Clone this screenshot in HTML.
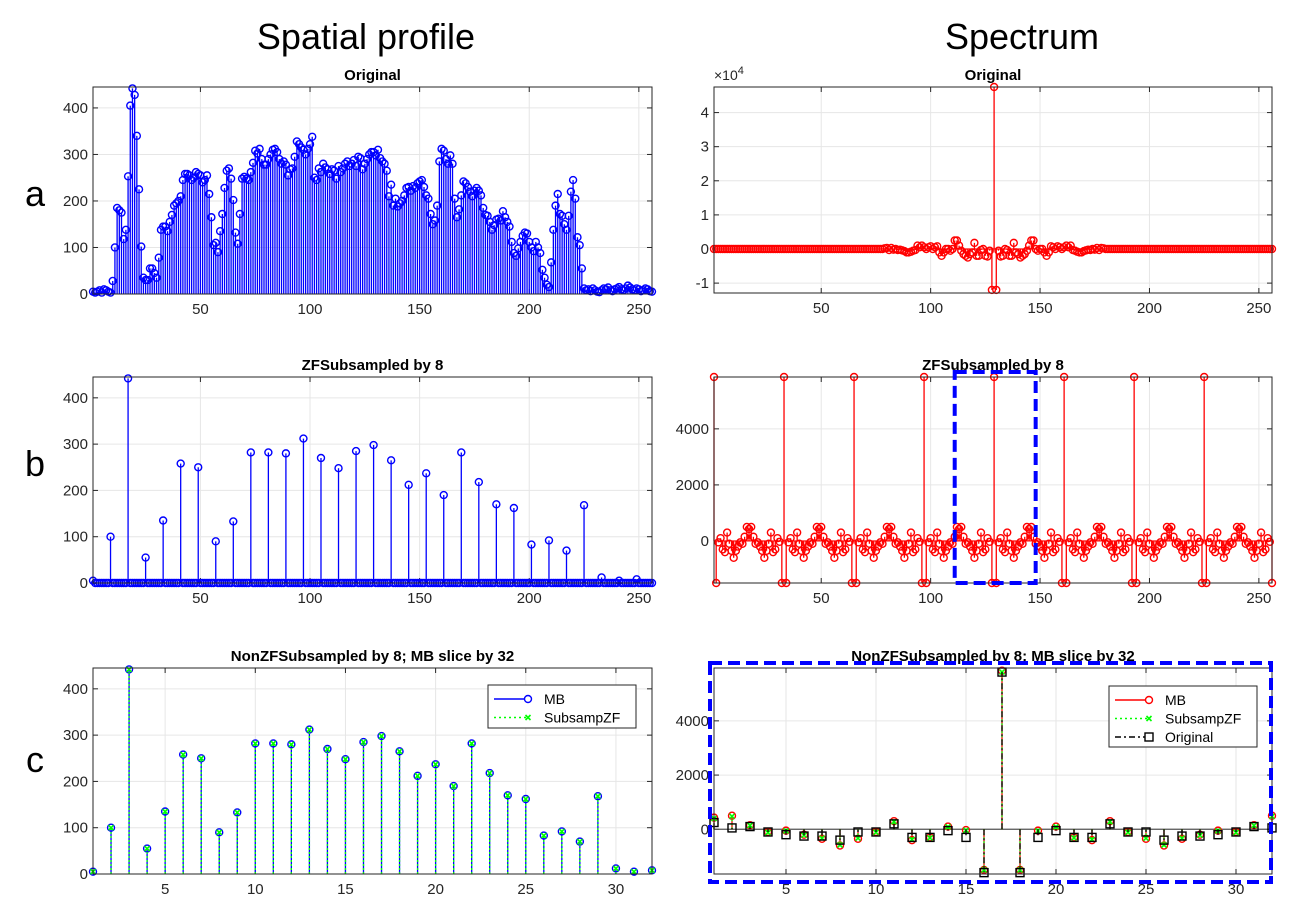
<!DOCTYPE html>
<html><head><meta charset="utf-8"><style>
body{margin:0;background:#fff;}
svg text{font-family:"Liberation Sans",Arial,sans-serif;}
</style></head><body>
<svg id="fig" width="1291" height="916" viewBox="0 0 1291 916" xmlns="http://www.w3.org/2000/svg">
<rect width="1291" height="916" fill="#fff"/>
<text x="366" y="49" font-size="36" text-anchor="middle" fill="#000">Spatial profile</text>
<text x="1022" y="49" font-size="36" text-anchor="middle" fill="#000">Spectrum</text>
<text x="35" y="206" font-size="36" text-anchor="middle">a</text>
<text x="35" y="476" font-size="36" text-anchor="middle">b</text>
<text x="35" y="772" font-size="36" text-anchor="middle">c</text>
</svg>
<script>
// ---- data ----
const spatialOriginal=[5,3,5,8,3,10,8,5,3,28,100,185,180,175,118,138,253,405,442,428,340,225,102,35,30,30,55,55,45,35,78,138,145,145,135,155,170,190,195,200,210,245,258,258,255,245,250,262,258,255,240,245,255,215,165,105,110,90,135,172,228,265,270,248,202,132,108,172,248,252,248,245,262,282,308,302,312,290,278,278,290,300,310,312,305,290,280,285,278,255,268,270,295,328,322,315,310,300,312,322,338,250,245,270,262,280,272,268,258,268,265,248,275,262,270,280,285,275,280,288,275,295,292,268,280,290,300,305,305,298,310,292,285,280,265,210,235,190,205,188,195,200,212,228,230,222,232,228,238,242,245,230,212,205,172,150,158,190,285,312,308,290,280,298,280,205,165,182,212,242,238,230,220,210,222,228,222,212,185,170,168,155,138,148,160,162,158,178,165,155,145,112,88,82,98,112,125,132,130,112,100,92,112,100,88,52,35,20,15,68,138,190,215,172,168,150,138,168,220,245,205,122,105,55,12,8,10,6,12,8,5,4,8,12,10,14,8,6,10,12,15,10,8,12,18,14,10,8,12,10,6,8,12,10,6,5].slice(0,256);
const subsampValues=[5,100,442,55,135,258,250,90,133,282,282,280,312,270,248,285,298,265,212,237,190,282,218,170,162,83,92,70,168,12,5,8];
const spectrumOriginal=[0,0,0,0,0,0,0,0,0,0,0,0,0,0,0,0,0,0,0,0,0,0,0,0,0,0,0,0,0,0,0,0,0,0,0,0,0,0,0,0,0,0,0,0,0,0,0,0,0,0,0,0,0,0,0,0,0,0,0,0,0,0,0,0,0,0,0,0,0,0,0,0,0,0,0,0,0,0,200,300,-300,300,-200,0,-300,-200,-400,-600,-1000,-1000,-800,-500,-300,1000,500,1000,500,0,500,800,0,500,800,-1000,-2000,-1000,0,0,-500,0,2500,2500,1000,-500,-1500,-2000,-2500,-1500,-1000,1800,-2000,-2000,-300,0,-2000,-2200,-500,-12000,47500,-12000,-500,-2200,-2000,0,-300,-2000,-2000,1800,-1000,-1500,-2500,-2000,-1500,-500,1000,2500,2500,0,-500,0,0,-1000,-2000,-1000,800,500,0,800,500,0,500,1000,500,1000,-300,-500,-800,-1000,-1000,-600,-400,-200,-300,0,-200,300,-300,300,200,0,0,0,0,0,0,0,0,0,0,0,0,0,0,0,0,0,0,0,0,0,0,0,0,0,0,0,0,0,0,0,0,0,0,0,0,0,0,0,0,0,0,0,0,0,0,0,0,0,0,0,0,0,0,0,0,0,0,0,0,0,0,0,0,0,0,0,0,0,0,0,0,0,0,0,0,0,0,0,0,0,0].slice(0,256);
const mbSpectrum=[430,500,150,-100,-50,-200,-350,-600,-350,-100,300,-400,-300,100,-30,-1500,5850,-1500,-50,100,-300,-400,300,-100,-350,-600,-350,-200,-50,-100,150,500];
const zfSpectrum=[400,480,140,-120,-60,-220,-330,-580,-330,-110,280,-380,-320,90,-40,-1500,5800,-1500,-60,90,-320,-380,280,-110,-330,-580,-330,-220,-60,-120,140,480];
const origSpectrum=[250,50,100,-100,-200,-250,-250,-400,-100,-100,200,-300,-300,-50,-300,-1600,5800,-1600,-300,-50,-300,-300,200,-100,-100,-400,-250,-250,-200,-100,100,50];
const xTicks256=[50,100,150,200,250];
const xTicks32=[5,10,15,20,25,30];
const yTicksSpatial=[0,100,200,300,400];
const yTicksSpecA=[-10000,0,10000,20000,30000,40000];
const yTicksSpecA_labels=["-1","0","1","2","3","4"];
const yTicksSpecB=[0,2000,4000];

const NS="http://www.w3.org/2000/svg";
const svg=document.getElementById('fig');
function el(tag,attrs,parent){const e=document.createElementNS(NS,tag);for(const k in attrs)e.setAttribute(k,attrs[k]);(parent||svg).appendChild(e);return e;}

function makeAxes(name,x0,x1,y0,y1,xmin,xmax,ymin,ymax,xt,yt,ytl,title){
  const g=el('g',{});
  
  
  const sx=v=>x0+(v-xmin)/(xmax-xmin)*(x1-x0);
  const sy=v=>y1-(v-ymin)/(ymax-ymin)*(y1-y0);
  el('rect',{x:x0,y:y0,width:x1-x0,height:y1-y0,fill:'#fff'},g);
  xt.forEach(t=>{const X=sx(t);
    const gl=el('line',{x1:X,x2:X,y1:y0,y2:y1,stroke:'#e6e6e6','stroke-width':1},g);
    
    el('line',{x1:X,x2:X,y1:y1,y2:y1-5,stroke:'#262626'},g);
    el('line',{x1:X,x2:X,y1:y0,y2:y0+5,stroke:'#262626'},g);
    const tx=el('text',{x:X,y:y1+20,'font-size':15,'text-anchor':'middle',fill:'#262626'},g);tx.textContent=t;
    });
  yt.forEach((t,i)=>{const Y=sy(t);
    const gl=el('line',{x1:x0,x2:x1,y1:Y,y2:Y,stroke:'#e6e6e6','stroke-width':1},g);
    
    el('line',{x1:x0,x2:x0+5,y1:Y,y2:Y,stroke:'#262626'},g);
    el('line',{x1:x1,x2:x1-5,y1:Y,y2:Y,stroke:'#262626'},g);
    const tx=el('text',{x:x0-5,y:Y+5,'font-size':15,'text-anchor':'end',fill:'#262626'},g);tx.textContent=ytl?ytl[i]:t;
    });
  const tt=el('text',{x:(x0+x1)/2,y:y0-7,'font-size':15,'font-weight':'bold','text-anchor':'middle',fill:'#000'},g);tt.textContent=title;
  
  return {g,sx,sy,box:()=>{el('rect',{x:x0,y:y0,width:x1-x0,height:y1-y0,fill:'none',stroke:'#262626','stroke-width':1},g);}};
}
function stems(ax,vals,color,marker,dash,name){
  const g=el('g',{},ax.g);
  
  
  const base=ax.sy(0);
  vals.forEach((v,i)=>{const X=ax.sx(i+1),Y=ax.sy(v);
    const l=el('line',{x1:X,x2:X,y1:base,y2:Y,stroke:color,'stroke-width':1.3},g);if(dash)l.setAttribute('stroke-dasharray',dash);
    if(marker==='o')el('circle',{cx:X,cy:Y,r:3.5,fill:'none',stroke:color,'stroke-width':1.4},g);
    else if(marker==='x'){el('path',{d:`M${X-2.5} ${Y-2.5}L${X+2.5} ${Y+2.5}M${X-2.5} ${Y+2.5}L${X+2.5} ${Y-2.5}`,stroke:color,'stroke-width':1.6},g);}
    else if(marker==='s')el('rect',{x:X-4,y:Y-4,width:8,height:8,fill:'none',stroke:color,'stroke-width':1.4},g);
  });
}
function baseline(ax,x0,x1,color){el('line',{x1:x0,x2:x1,y1:ax.sy(0),y2:ax.sy(0),stroke:color,'stroke-width':1.2},ax.g);}

const LX0=93,LX1=652,RX0=714,RX1=1272;
// Row a
let a1=makeAxes('spatial-original-axes',LX0,LX1,87,294,1,256,0,445,xTicks256,yTicksSpatial,null,'Original');
stems(a1,spatialOriginal,'#0000ff','o',null,'spatial-original-stems');a1.box();
let a2=makeAxes('spectrum-original-axes',RX0,RX1,87,293,1,256,-12900,47500,xTicks256,yTicksSpecA,yTicksSpecA_labels,'Original');
baseline(a2,RX0,RX1,'#ff0000');
stems(a2,spectrumOriginal,'#ff0000','o',null,'spectrum-original-stems');a2.box();
{const t=el('text',{x:RX0,y:80,'font-size':14,fill:'#262626'});t.innerHTML='×10<tspan dy="-6" font-size="11">4</tspan>';
}
// Row b
const zfSpatial=spatialOriginal.map((v,i)=>i%8===0?subsampValues[i/8]:0);
let b1=makeAxes('spatial-zf-axes',LX0,LX1,377,583,1,256,0,445,xTicks256,yTicksSpatial,null,'ZFSubsampled by 8');
baseline(b1,LX0,LX1,'#0000ff');
stems(b1,zfSpatial,'#0000ff','o',null,'spatial-zf-stems');b1.box();
const zfSpecFull=spectrumOriginal.map((v,i)=>mbSpectrum[(((i+1-113)%32)+32)%32]);
let b2=makeAxes('spectrum-zf-axes',RX0,RX1,377,583,1,256,-1500,5850,xTicks256,yTicksSpecB,null,'ZFSubsampled by 8');
baseline(b2,RX0,RX1,'#ff0000');
stems(b2,zfSpecFull,'#ff0000','o',null,'spectrum-zf-stems');b2.box();
{const r=el('rect',{x:b2.sx(111),y:372,width:b2.sx(148)-b2.sx(111),height:211,fill:'none',stroke:'#0000ff','stroke-width':4,'stroke-dasharray':'12,6'});
}
// Row c
let c1=makeAxes('spatial-nonzf-axes',LX0,LX1,668,874,1,32,0,445,xTicks32,yTicksSpatial,null,'NonZFSubsampled by 8; MB slice by 32');
stems(c1,subsampValues,'#0000ff','o',null,'spatial-mb-stems');
stems(c1,subsampValues,'#00ff00','x','2,2','spatial-subsampzf-stems');c1.box();
let c2=makeAxes('spectrum-nonzf-axes',RX0,RX1,668,874,1,32,-1650,5950,xTicks32,yTicksSpecB,null,'NonZFSubsampled by 8; MB slice by 32');
baseline(c2,RX0,RX1,'#555');
stems(c2,mbSpectrum,'#ff0000','o',null,'spectrum-mb-stems');
stems(c2,zfSpectrum,'#00ff00','x','2,2','spectrum-subsampzf-stems');
stems(c2,origSpectrum,'#000000','s','6,3,2,3','spectrum-original-stems-c');c2.box();
{const r=el('rect',{x:710,y:663,width:561,height:219,fill:'none',stroke:'#0000ff','stroke-width':4,'stroke-dasharray':'12,6'});
}
// legends
function legend(name,x,y,w,h,items){
  const g=el('g',{});
  
  
  el('rect',{x,y,width:w,height:h,fill:'#fff',stroke:'#262626','stroke-width':1},g);
  items.forEach((it,i)=>{const Y=y+14+i*18.5;
    const e=el('g',{},g);
    
    
    const l=el('line',{x1:x+6,x2:x+40,y1:Y,y2:Y,stroke:it.c,'stroke-width':1.5},e);if(it.d)l.setAttribute('stroke-dasharray',it.d);
    const X=x+40;
    if(it.m==='o')el('circle',{cx:X,cy:Y,r:3.5,fill:'#fff',stroke:it.c,'stroke-width':1.4},e);
    if(it.m==='x')el('path',{d:`M${X-2.5} ${Y-2.5}L${X+2.5} ${Y+2.5}M${X-2.5} ${Y+2.5}L${X+2.5} ${Y-2.5}`,stroke:it.c,'stroke-width':1.6},e);
    if(it.m==='s')el('rect',{x:X-4,y:Y-4,width:8,height:8,fill:'#fff',stroke:it.c,'stroke-width':1.4},e);
    const t=el('text',{x:x+56,y:Y+5,'font-size':14,fill:'#000'},e);t.textContent=it.t;});
}
legend('spatial-legend',488,685,148,43,[{t:'MB',c:'#0000ff',m:'o'},{t:'SubsampZF',c:'#00ff00',m:'x',d:'2,3'}]);
legend('spectrum-legend',1109,686,148,61,[{t:'MB',c:'#ff0000',m:'o'},{t:'SubsampZF',c:'#00ff00',m:'x',d:'2,3'},{t:'Original',c:'#000',m:'s',d:'6,3,2,3'}]);
</script>
</body></html>
